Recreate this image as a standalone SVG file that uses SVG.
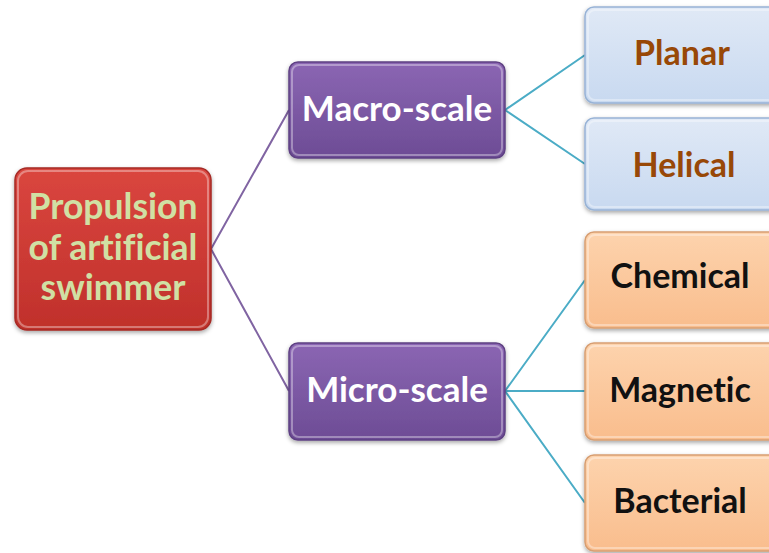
<svg xmlns="http://www.w3.org/2000/svg" width="769" height="553" viewBox="0 0 769 553">
<defs>
<linearGradient id="gRed" x1="0" y1="0" x2="0" y2="1"><stop offset="0" stop-color="#da463f"/><stop offset="1" stop-color="#c0302b"/></linearGradient>
<linearGradient id="gPur" x1="0" y1="0" x2="0" y2="1"><stop offset="0" stop-color="#8b66b3"/><stop offset="1" stop-color="#6d4c95"/></linearGradient>
<linearGradient id="gBlue" x1="0" y1="0" x2="0" y2="1"><stop offset="0" stop-color="#e0e9f6"/><stop offset="1" stop-color="#c8d9f0"/></linearGradient>
<linearGradient id="gOra" x1="0" y1="0" x2="0" y2="1"><stop offset="0" stop-color="#fdd3ad"/><stop offset="1" stop-color="#f9bd8d"/></linearGradient>
<filter id="sh" x="-10%" y="-10%" width="120%" height="130%"><feDropShadow dx="0" dy="2" stdDeviation="2" flood-color="#000" flood-opacity="0.35"/></filter>
</defs>
<style>
text{font-family:"Lato","Liberation Sans",sans-serif;font-weight:bold;text-anchor:middle;font-variant-ligatures:none;font-feature-settings:"liga" 0,"clig" 0}
.box{filter:url(#sh)}
.red{fill:url(#gRed);stroke:#a52a25;stroke-width:1.5}
.pur{fill:url(#gPur);stroke:#5e4083;stroke-width:1.5}
.blue{fill:url(#gBlue);stroke:#98b3d6;stroke-width:1.5}
.ora{fill:url(#gOra);stroke:#d79e72;stroke-width:1.5}
.hl{fill:none;stroke:#fff;stroke-opacity:0.35;stroke-width:2}
.t1{font-size:35.5px;fill:#d0e0a4}
.t2{font-size:35px;fill:#fff}
.t3{font-size:34px;fill:#984807}
.t4{font-size:34px;fill:#111}
.cp{stroke:#8064a2;stroke-width:2;fill:none}
.ct{stroke:#4bacc6;stroke-width:2;fill:none}
</style>
<g id="connectors">
<path class="cp" d="M211,249 L289,110 M211,249 L289,391"/>
<path class="ct" d="M505,110 L585,55 M505,110 L585,164"/>
<path class="ct" d="M505,391 L585,280 M505,391 L585,391 M505,391 L585,503"/>
</g>
<g id="root">
<rect class="box red" x="15" y="168" width="196" height="162" rx="12"/>
<rect class="hl" x="18" y="171" width="190" height="156" rx="10"/>
<text class="t1" x="113" y="219">Propulsion</text>
<text class="t1" x="113" y="260">of artificial</text>
<text class="t1" x="113" y="300">swimmer</text>
</g>
<g id="macro">
<rect class="box pur" x="289" y="62" width="216" height="96" rx="9"/>
<rect class="hl" x="292" y="65" width="210" height="90" rx="7"/>
<text class="t2" x="397" y="121">Macro-scale</text>
</g>
<g id="micro">
<rect class="box pur" x="289" y="343" width="216" height="97" rx="9"/>
<rect class="hl" x="292" y="346" width="210" height="91" rx="7"/>
<text class="t2" x="397" y="402">Micro-scale</text>
</g>
<g id="planar">
<rect class="box blue" x="585" y="7" width="195" height="96" rx="9"/>
<rect class="hl" x="588" y="10" width="189" height="90" rx="7"/>
<text class="t3" x="682" y="65">Planar</text>
</g>
<g id="helical">
<rect class="box blue" x="585" y="118" width="195" height="92" rx="9"/>
<rect class="hl" x="588" y="121" width="189" height="86" rx="7"/>
<text class="t3" x="684" y="177">Helical</text>
</g>
<g id="chemical">
<rect class="box ora" x="585" y="232" width="195" height="96" rx="9"/>
<rect class="hl" x="588" y="235" width="189" height="90" rx="7"/>
<text class="t4" x="680" y="288">Chemical</text>
</g>
<g id="magnetic">
<rect class="box ora" x="585" y="343" width="195" height="97" rx="9"/>
<rect class="hl" x="588" y="346" width="189" height="91" rx="7"/>
<text class="t4" x="680" y="402">Magnetic</text>
</g>
<g id="bacterial">
<rect class="box ora" x="585" y="455" width="195" height="96" rx="9"/>
<rect class="hl" x="588" y="458" width="189" height="90" rx="7"/>
<text class="t4" x="680" y="513">Bacterial</text>
</g>
</svg>
